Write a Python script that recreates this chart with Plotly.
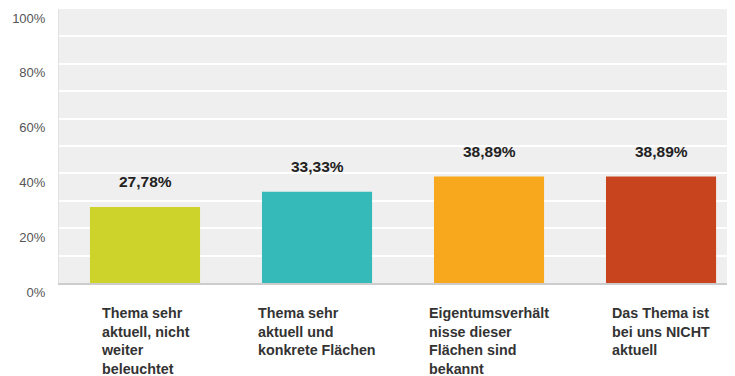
import plotly.graph_objects as go

categories = [
    "Thema sehr<br>aktuell, nicht<br>weiter<br>beleuchtet",
    "Thema sehr<br>aktuell und<br>konkrete Flächen",
    "Eigentumsverhält<br>nisse dieser<br>Flächen sind<br>bekannt",
    "Das Thema ist<br>bei uns NICHT<br>aktuell",
]
values = [0.2778, 0.3333, 0.3889, 0.3889]
value_labels = ["27,78%", "33,33%", "38,89%", "38,89%"]
colors = ["#cdd32a", "#35b9b9", "#f8a81c", "#c8441e"]
tick_vals = [0, 0.2, 0.4, 0.6, 0.8, 1.0]
tick_text = ["0%", "20%", "40%", "60%", "80%", "100%"]

x_idx = list(range(len(categories)))

fig = go.Figure()
fig.add_trace(go.Bar(
    x=x_idx, y=values, marker_color=colors, width=0.64,
    marker_line_width=0, hoverinfo="skip",
))

annotations = []
for i, (v, lab) in enumerate(zip(values, value_labels)):
    annotations.append(dict(
        x=i, y=v, xref="x", yref="y", text="<b>%s</b>" % lab,
        showarrow=False, yanchor="middle", yshift=25,
        font=dict(family="Liberation Sans, Arial, sans-serif", size=15.5, color="#222222"),
    ))
for i, cat in enumerate(categories):
    annotations.append(dict(
        x=i, y=0, xref="x", yref="y", text="<b>%s</b>" % cat,
        showarrow=False, xanchor="center", yanchor="top", align="left", yshift=-20,
        font=dict(family="Liberation Sans, Arial, sans-serif", size=14.3, color="#333333"),
    ))

# page body adds an 8px offset; sizes/margins compensate so the plot sits where the reference has it
fig.update_layout(
    width=727, height=368,
    margin=dict(l=51, r=0, t=1, b=93),
    paper_bgcolor="white", plot_bgcolor="#efefef",
    showlegend=False,
    annotations=annotations,
    xaxis=dict(range=[-0.5, 3.43], showticklabels=False, showgrid=False, zeroline=False,
               showline=True, linecolor="#cccccc", linewidth=1.5, fixedrange=True,
               automargin=False),
    yaxis=dict(range=[0, 1.0], tickvals=tick_vals, ticktext=tick_text,
               showgrid=True, gridcolor="white", gridwidth=1.5,
               minor=dict(dtick=0.1, showgrid=True, gridcolor="white", gridwidth=1.5),
               zeroline=False, showline=True, linecolor="#e2e2e2", linewidth=1,
               tickfont=dict(family="Liberation Sans, Arial, sans-serif", size=13, color="#555555"),
               ticklabelshift=9, ticklabelstandoff=10, fixedrange=True,
               automargin=False),
)

fig.write_html("out.html")
